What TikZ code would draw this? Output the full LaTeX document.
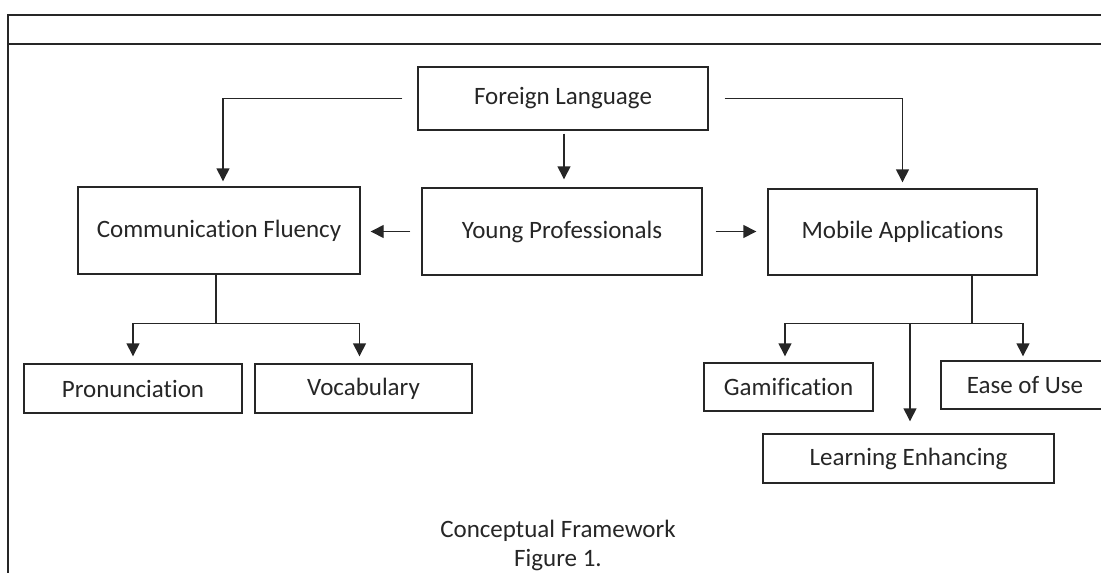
\documentclass[tikz,border=0pt]{standalone}
\usepackage{fontspec}
\setmainfont{Carlito}[Ligatures=NoCommon]
\usetikzlibrary{arrows.meta}
\definecolor{ink}{HTML}{262626}
\tikzset{
  box/.style={draw=ink, line width=1.4pt, text=ink, inner sep=0pt, font=\fontsize{25}{30}\selectfont},
  conn/.style={draw=ink, line width=1.4pt},
  arr/.style={conn, -{Triangle[width=13pt,length=13pt]}},
  captext/.style={text=ink, inner sep=0pt, font=\fontsize{25}{30}\selectfont}
}
\begin{document}
\begin{tikzpicture}[x=1pt,y=-1pt]
\useasboundingbox (0,0) rectangle (1101,573);
\clip (0,0) rectangle (1101,573);
% frame
\draw[ink, line width=2pt] (8,600) -- (8,15) -- (1120,15);
\draw[ink, line width=1.5pt] (8,44) -- (1120,44);
% nodes
\node[box, minimum width=290pt, minimum height=63pt] (FL) at (563,98.5) {Foreign Language};
\node[box, minimum width=280pt, minimum height=87pt] (YP) at (562,231.5) {Young Professionals};
\node[box, minimum width=282pt, minimum height=87pt] (CF) at (219,230.5) {Communication Fluency};
\node[box, minimum width=269pt, minimum height=86pt] (MA) at (902.5,232) {Mobile Applications};
\node[box, minimum width=218pt, minimum height=49pt] (PR) at (133,388.5) {Pronunciation};
\node[box, minimum width=217pt, minimum height=49pt] (VO) at (363.5,388.5) {Vocabulary};
\node[box, minimum width=169pt, minimum height=48pt] (GA) at (788.5,387) {Gamification};
\node[box, minimum width=168pt, minimum height=48pt] (EU) at (1025,385) {Ease of Use};
\node[box, minimum width=291pt, minimum height=49pt] (LE) at (908.5,458.5) {Learning Enhancing};
\node[captext] (c1) at (558,531) {Conceptual Framework};
\node[captext] (c2) at (558,560) {Figure 1.};
% connectors from Foreign Language
\draw[arr, shorten >=5pt] ([xshift=-15pt]FL.west) -| ([xshift=4pt]CF.north);
\draw[arr, shorten >=6pt] ([xshift=16pt]FL.east) -| (MA.north);
\draw[arr, shorten <=3pt, shorten >=8pt] ([xshift=1pt]FL.south) -- ([xshift=2pt]YP.north);
% Young Professionals sideways
\draw[arr, shorten <=11pt, shorten >=10pt] (YP.west) -- (YP.west -| CF.east);
\draw[arr, shorten <=13pt, shorten >=11pt] (YP.east) -- (YP.east -| MA.west);
% Communication Fluency branch
\draw[conn] ([xshift=-3pt]CF.south) -- ++(0,49) coordinate (cfj);
\draw[arr, shorten >=7pt] (cfj) -| (PR.north);
\draw[arr, shorten >=7pt] (cfj) -| ([xshift=-4pt]VO.north);
% Mobile Applications branch
\draw[conn] ([xshift=69.5pt]MA.south) -- ++(0,48) coordinate (maj);
\draw[arr, shorten >=6pt] (maj) -| ([xshift=-3.5pt]GA.north);
\draw[arr, shorten >=4pt] (maj) -| ([xshift=-2pt]EU.north);
\coordinate (mid) at ([xshift=1.5pt]maj -| LE.north);
\draw[arr, shorten >=12pt] (mid) -- (mid |- LE.north);
\end{tikzpicture}
\end{document}
